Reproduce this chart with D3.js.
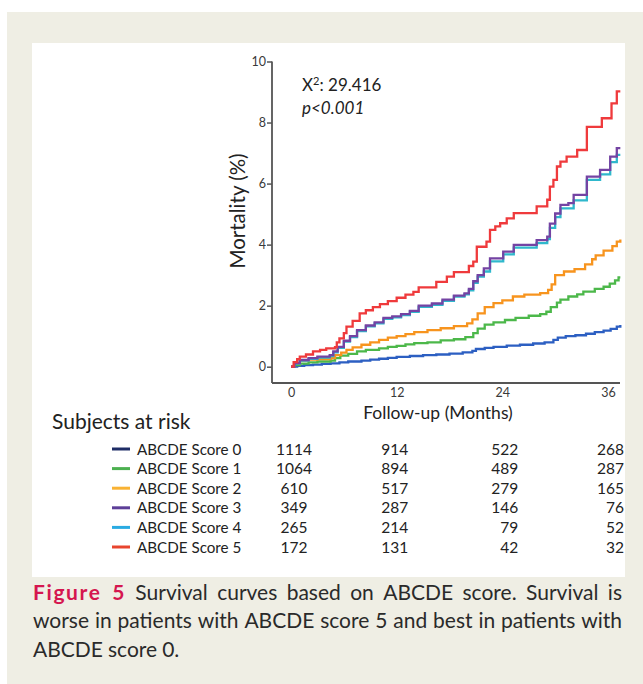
<!DOCTYPE html>
<html>
<head>
<meta charset="utf-8">
<script src="https://cdn.jsdelivr.net/npm/d3@7"></script>
<style>
  html, body { margin: 0; padding: 0; background: #ffffff; }
  svg { display: block; }
</style>
</head>
<body>
<svg id="fig" width="643" height="684"></svg>
<script>
// ---- Data --------------------------------------------------------------
const groups = ["ABCDE Score 0", "ABCDE Score 1", "ABCDE Score 2",
                "ABCDE Score 3", "ABCDE Score 4", "ABCDE Score 5"];
const curveColors  = ["#2c5fc2", "#4cb84a", "#f7941e", "#7443a3", "#2fb8cc", "#ef3a3c"];
const legendColors = ["#1e2d66", "#4cb050", "#f9b233", "#5d3f98", "#2aabe2", "#e8452e"];

// cumulative mortality (%) by follow-up month: [month, percent]
const score0 = [[0,0],[0.7,0.03],[1.5,0.05],[2.5,0.07],[3.5,0.09],[4.5,0.11],[5.5,0.14],[6.5,0.17],
  [8,0.2],[9,0.23],[10,0.26],[11,0.29],[12,0.32],[13.5,0.35],[15,0.38],[16.5,0.4],[18,0.43],
  [19.5,0.47],[20.6,0.52],[21,0.58],[22,0.62],[23,0.65],[24.5,0.69],[26,0.72],[27.5,0.76],
  [28.8,0.8],[29.8,0.88],[30.3,0.95],[31.2,1.0],[32.3,1.03],[33.5,1.08],[34.5,1.13],[35.5,1.18],
  [36.3,1.24],[37,1.31],[37.4,1.37]];
const score1 = [[0,0],[0.4,0.05],[1,0.1],[2,0.14],[3,0.17],[4.5,0.2],[5,0.28],[5.6,0.36],[6.5,0.42],
  [7.5,0.5],[8.5,0.55],[10,0.6],[11,0.65],[12,0.68],[13,0.73],[14,0.77],[15.5,0.8],[17,0.86],
  [18.5,0.9],[19.8,0.97],[20.7,1.1],[21.2,1.25],[22,1.38],[23,1.45],[24.3,1.53],[25.5,1.6],
  [27,1.67],[28.3,1.72],[29,1.8],[29.5,1.95],[30.2,2.1],[30.6,2.2],[31.5,2.3],[32.5,2.37],
  [33.2,2.46],[34.5,2.55],[35.5,2.62],[36.2,2.72],[36.8,2.83],[37.2,2.93],[37.4,2.93]];
const score2 = [[0,0],[0.4,0.12],[1,0.2],[2,0.23],[3,0.25],[4.5,0.28],[5,0.38],[5.7,0.46],[6.3,0.55],
  [7,0.63],[8,0.72],[9,0.8],[10,0.88],[11,0.95],[12,1.0],[13,1.07],[14,1.13],[15.5,1.2],[17,1.26],
  [18.5,1.33],[20,1.42],[20.6,1.55],[21.2,1.75],[22,1.95],[23,2.08],[24,2.17],[25.2,2.3],
  [26.5,2.36],[28.3,2.41],[29.2,2.52],[29.6,2.7],[30,3.0],[31,3.12],[32.2,3.2],[33.4,3.35],
  [34.2,3.52],[34.6,3.65],[35.5,3.8],[36.5,3.95],[37,4.1],[37.4,4.17]];
const score3 = [[0,0],[0.4,0.12],[1,0.22],[2,0.28],[3,0.33],[4.4,0.38],[4.8,0.5],[5.3,0.65],[6,0.85],
  [6.7,1.0],[7.5,1.2],[8.5,1.35],[9.5,1.45],[10.5,1.6],[11.5,1.65],[12.5,1.72],[13.5,1.83],
  [14.5,2.0],[16,2.07],[17.2,2.2],[18.5,2.33],[19.7,2.4],[20.2,2.55],[20.7,2.8],[21.2,3.0],
  [21.9,3.22],[22.6,3.55],[24.1,3.77],[25.3,3.99],[27.9,4.15],[29.1,4.26],[29.4,4.69],[30,5.02],
  [30.6,5.3],[31.5,5.36],[32.1,5.63],[33.6,6.23],[35.1,6.45],[36.25,6.88],[37,7.16],[37.4,7.16]];
const score4 = [[0,0],[0.4,0.1],[1,0.2],[2,0.26],[3,0.3],[4.4,0.35],[4.8,0.47],[5.3,0.62],[6,0.82],
  [6.7,0.97],[7.5,1.17],[8.5,1.32],[9.5,1.42],[10.5,1.57],[11.5,1.62],[12.5,1.69],[13.5,1.8],
  [14.5,1.96],[16,2.03],[17.2,2.16],[18.5,2.3],[19.7,2.37],[20.2,2.5],[20.7,2.75],[21.2,2.95],
  [21.9,3.12],[22.6,3.45],[24.1,3.68],[25.3,3.9],[27.9,4.05],[29.1,4.18],[29.4,4.55],[30,4.9],
  [30.6,5.19],[32.1,5.45],[33.6,6.12],[35.1,6.3],[36.25,6.7],[37,6.94],[37.4,6.94]];
const score5 = [[0,0],[0.3,0.15],[0.7,0.25],[1,0.33],[1.7,0.4],[2.5,0.5],[3.3,0.55],[4,0.6],[5,0.64],
  [5.2,0.8],[5.5,0.93],[6,1.1],[6.3,1.31],[7,1.5],[7.8,1.75],[8.5,1.85],[9.3,1.95],[10.1,2.05],
  [11,2.15],[12,2.26],[13,2.36],[13.9,2.45],[14.5,2.6],[16.5,2.78],[17.7,2.95],[18.5,3.1],
  [20.2,3.3],[20.7,3.44],[21.1,3.93],[22.2,4.1],[22.6,4.48],[23.2,4.6],[23.75,4.7],[24.5,4.86],
  [25.3,5.03],[27.6,5.03],[27.9,5.25],[29.1,5.47],[29.4,5.9],[29.8,6.12],[30.2,6.56],[30.6,6.72],
  [31.3,6.88],[32.5,7.1],[33.6,7.86],[35.3,8.14],[36.4,8.63],[37,9.02],[37.4,9.02]];
const seriesData = [score0, score1, score2, score3, score4, score5];

// subjects at risk at each time point
const riskMonths = [0, 12, 24, 36];
const risk0 = [1114, 914, 522, 268];
const risk1 = [1064, 894, 489, 287];
const risk2 = [610, 517, 279, 165];
const risk3 = [349, 287, 146, 76];
const risk4 = [265, 214, 79, 52];
const risk5 = [172, 131, 42, 32];
const riskRows = [risk0, risk1, risk2, risk3, risk4, risk5];

const yTicks = [0, 2, 4, 6, 8, 10];
const xTicks = [0, 12, 24, 36];
const statName = "X", statSup = "2", statValue = ": 29.416";
const statP = "p<0.001";
const yTitle = "Mortality (%)";
const xTitle = "Follow-up (Months)";
const riskTitle = "Subjects at risk";
const captionLines = [
  ["Survival curves based on ABCDE score. Survival is", true],
  ["worse in patients with ABCDE score 5 and best in patients with", true],
  ["ABCDE score 0.", false]
];
const captionLabel = "Figure 5";

// ---- Layout ------------------------------------------------------------
const FONT = "Lato, 'Open Sans', sans-serif";
const svg = d3.select("#fig");

// page panel and figure box
svg.append("rect").attr("x", 7).attr("y", 12).attr("width", 636).attr("height", 672).attr("fill", "#efeee4");
svg.append("rect").attr("x", 32).attr("y", 43).attr("width", 593).attr("height", 534).attr("fill", "#ffffff");

const x = d3.scaleLinear().domain([0, 36]).range([291, 608]);
const y = d3.scaleLinear().domain([0, 10]).range([366.7, 61.5]);
const axisX0 = 272, axisY0 = 383, axisXEnd = 620;

// curves (step functions), drawn back to front so red sits on top
const line = d3.line().x(d => x(d[0])).y(d => y(d[1])).curve(d3.curveStepAfter);
const curveOrder = [0, 1, 2, 4, 3, 5];
svg.append("g").selectAll("path").data(curveOrder).join("path")
  .attr("d", i => line(seriesData[i]))
  .attr("fill", "none")
  .attr("stroke", i => curveColors[i])
  .attr("stroke-width", 2.3)
  .attr("stroke-linejoin", "miter");

// axes
const axisColor = "#555555";
const tickFont = 12.5;
const gy = svg.append("g").attr("transform", `translate(${axisX0},0)`)
  .call(d3.axisLeft(y).tickValues(yTicks).tickSize(5).tickPadding(1).tickFormat(d3.format("d")));
gy.select(".domain").remove();
gy.selectAll(".tick line").attr("stroke", axisColor).attr("stroke-width", 1.5);
gy.selectAll(".tick text").attr("font-family", FONT).attr("font-size", tickFont).attr("fill", "#3a3a3a");
svg.append("line").attr("x1", axisX0).attr("x2", axisX0).attr("y1", y(10)).attr("y2", axisY0)
  .attr("stroke", axisColor).attr("stroke-width", 1.8);

const gx = svg.append("g").attr("transform", `translate(0,${axisY0})`)
  .call(d3.axisBottom(x).tickValues(xTicks).tickSize(0).tickPadding(5).tickFormat(d3.format("d")));
gx.select(".domain").remove();
gx.selectAll(".tick text").attr("font-family", FONT).attr("font-size", tickFont).attr("fill", "#3a3a3a");
svg.append("line").attr("x1", axisX0).attr("x2", axisXEnd).attr("y1", axisY0).attr("y2", axisY0)
  .attr("stroke", axisColor).attr("stroke-width", 1.8);

// axis titles
svg.append("text").attr("transform", "translate(245,211) rotate(-90)")
  .attr("text-anchor", "middle").attr("font-family", FONT).attr("font-size", 20.5)
  .attr("fill", "#222").text(yTitle);
svg.append("text").attr("x", 438).attr("y", 419).attr("text-anchor", "middle")
  .attr("font-family", FONT).attr("font-size", 17.5).attr("fill", "#222").text(xTitle);

// test statistic
const stat = svg.append("text").attr("x", 302).attr("y", 91).attr("font-family", FONT)
  .attr("font-size", 17).attr("fill", "#222");
stat.append("tspan").text(statName);
stat.append("tspan").attr("font-size", 11).attr("dy", -6.5).text(statSup);
stat.append("tspan").attr("dy", 6.5).text(statValue);
svg.append("text").attr("x", 302).attr("y", 114).attr("font-family", FONT).attr("font-size", 17)
  .attr("font-style", "italic").attr("fill", "#222").text(statP);

// subjects at risk table
svg.append("text").attr("x", 52).attr("y", 429).attr("font-family", FONT).attr("font-size", 21)
  .attr("fill", "#222").text(riskTitle);
const rowY = i => 449 + i * 19.6;
const rows = svg.append("g").selectAll("g").data(groups).join("g")
  .attr("transform", (d, i) => `translate(0,${rowY(i)})`);
rows.append("line").attr("x1", 112).attr("x2", 130).attr("y1", 0).attr("y2", 0)
  .attr("stroke", (d, i) => legendColors[i]).attr("stroke-width", 3);
rows.append("text").attr("x", 137).attr("y", 5.5).attr("font-family", FONT).attr("font-size", 15.2)
  .attr("fill", "#222").text(d => d);
const colAnchor = ["middle", "middle", "end", "end"];
const colShift = [3, -2, 16, 16];
rows.each(function(d, i) {
  d3.select(this).selectAll("text.n").data(riskRows[i]).join("text").attr("class", "n")
    .attr("x", (v, j) => x(riskMonths[j]) + colShift[j]).attr("y", 5.5)
    .attr("text-anchor", (v, j) => colAnchor[j])
    .attr("font-family", FONT).attr("font-size", 15.5).attr("fill", "#222").text(v => v);
});

// caption, justified line by line; the figure label is one wide bold run
const capX0 = 33, capX1 = 622, capSize = 21;
const capBase = [600, 628, 657];
const cap = svg.append("g").attr("font-family", FONT).attr("font-size", capSize).attr("fill", "#2a2a2a");
captionLines.forEach(([txt, justify], li) => {
  let words = txt.split(" ").map(w => ({ w, bold: false }));
  if (li === 0) words = [{ w: captionLabel, bold: true }].concat(words);
  const nodes = words.map(o => {
    const t = cap.append("text").attr("y", capBase[li]).text(o.w);
    if (o.bold) t.attr("font-weight", 700).attr("fill", "#d5164f").attr("letter-spacing", 1.6)
      .attr("word-spacing", 4);
    return t;
  });
  const widths = nodes.map(n => n.node().getComputedTextLength());
  const total = d3.sum(widths);
  const gap = justify ? (capX1 - capX0 - total) / (nodes.length - 1) : capSize * 0.24;
  let cx = capX0;
  nodes.forEach((n, k) => {
    n.attr("x", cx);
    cx += widths[k] + gap;
  });
});
</script>
</body>
</html>
